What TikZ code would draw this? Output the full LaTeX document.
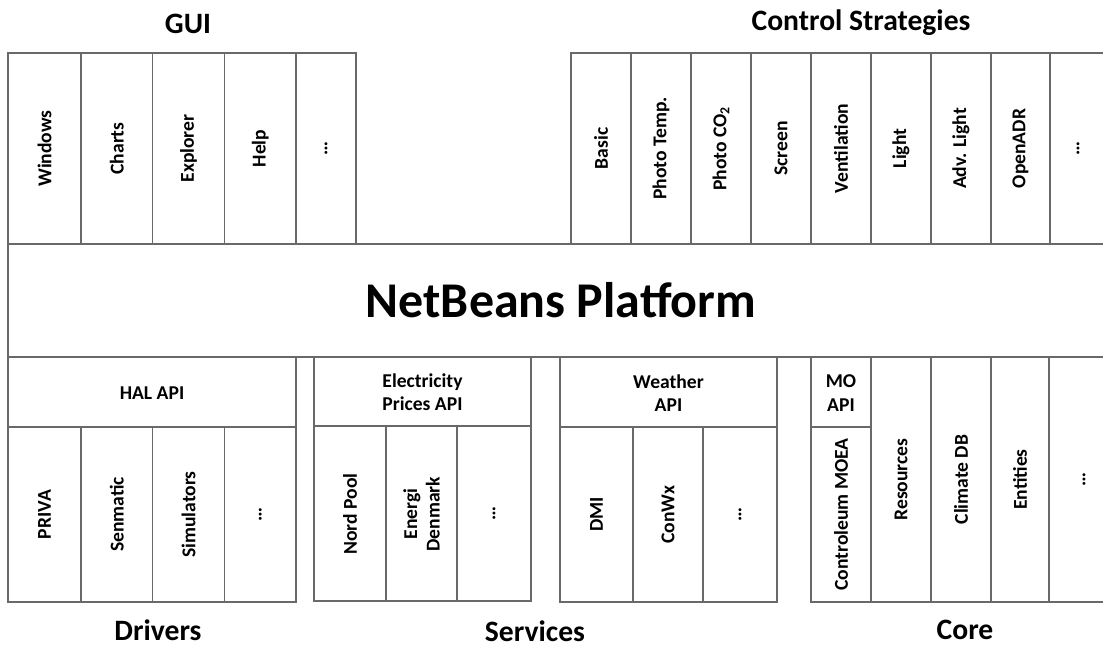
\documentclass[tikz,border=0pt]{standalone}
\usepackage{fontspec}
\setmainfont{Carlito}
\usetikzlibrary{positioning}
\definecolor{linegray}{RGB}{105,105,105}

\tikzset{
  box/.style={draw=linegray, line width=0.65pt},
  vlabel/.style={rotate=90, inner sep=0pt, align=center, font=\bfseries\fontsize{9.8}{11.2}\selectfont},
  hlabel/.style={inner sep=0pt, align=center, font=\bfseries\fontsize{9.8}{11.6}\selectfont},
  group/.style={inner sep=0pt, font=\bfseries\fontsize{14.8}{17}\selectfont},
}

\begin{document}
\begin{tikzpicture}[x=0.5pt,y=-0.5pt]
    \useasboundingbox[clip] (0,0) rectangle (1103,646);

    % GUI
    \node[group] (gui) at (188,24) {GUI};
    \foreach \xa/\xb/\nm/\txt in {8/81/windows/Windows, 81/152.5/charts/Charts, 152.5/224.5/explorer/Explorer, 224.5/296/help/Help, 296/356/guimore/…}{
        \draw[box] (\xa,53) rectangle (\xb,244);
        \node[vlabel] (\nm) at ({(\xa+\xb)/2},148.5) {\txt};
    }

    % Control strategies
    \node[group] (control) at (861,23) {Control Strategies};
    \foreach \xa/\xb/\nm/\txt in {571/631/basic/Basic, 631/691/phtemp/Photo Temp., 691/751/phco/{Photo CO\textsubscript{2}}, 751/811/screen/Screen, 811/871/vent/Ventilation, 871/931/light/Light, 931/991/advlight/Adv. Light, 991/1050/openadr/OpenADR, 1050/1106/ctrlmore/…}{
        \draw[box] (\xa,53) rectangle (\xb,244);
        \node[vlabel] (\nm) at ({(\xa+\xb)/2},148.5) {\txt};
    }

    % Platform
    \draw[box] (8,244) rectangle (1112,357);
    \node[inner sep=0pt, font=\bfseries\fontsize{25}{30}\selectfont] (platform) at (561,300) {NetBeans Platform};

    % Drivers
    \draw[box] (8,357) rectangle (296,427);
    \node[hlabel] (halapi) at (152,393) {HAL API};
    \foreach \xa/\xb/\nm/\txt in {8/81/priva/PRIVA, 81/152.5/senmatic/Senmatic, 152.5/224.5/sim/Simulators, 224.5/296/drvmore/…}{
        \draw[box] (\xa,427) rectangle (\xb,602);
        \node[vlabel] (\nm) at ({(\xa+\xb)/2},514.5) {\txt};
    }
    \node[group] (drivers) at (158,630) {Drivers};

    % Services
    \draw[box] (314,357) rectangle (531,426);
    \node[hlabel] (elapi) at (422.5,392) {Electricity\\Prices API};
    \foreach \xa/\xb/\nm/\txt in {314/386/nordpool/Nord Pool, 386/457/energi/{Energi\\Denmark}, 457/531/elmore/…}{
        \draw[box] (\xa,426) rectangle (\xb,601);
        \node[vlabel] (\nm) at ({(\xa+\xb)/2},514) {\txt};
    }
    \draw[box] (560,357) rectangle (777,427);
    \node[hlabel] (wapi) at (668.5,393) {Weather\\API};
    \foreach \xa/\xb/\nm/\txt in {560/633/dmi/DMI, 633/703/conwx/ConWx, 703/777/wmore/…}{
        \draw[box] (\xa,427) rectangle (\xb,602);
        \node[vlabel] (\nm) at ({(\xa+\xb)/2},514.5) {\txt};
    }
    \node[group] (services) at (535,631) {Services};

    % Core
    \draw[box] (811,357) rectangle (871,427);
    \node[hlabel] (moapi) at (841,393) {MO\\API};
    \draw[box] (811,427) rectangle (871,602);
    \node[vlabel] (moea) at (841,514.5) {Controleum MOEA};
    \foreach \xa/\xb/\nm/\txt in {871/931/resources/Resources, 931/991/climdb/Climate DB, 991/1049/entities/Entities, 1049/1119/coremore/…}{
        \draw[box] (\xa,357) rectangle (\xb,602);
        \node[vlabel] (\nm) at ({(\xa+\xb)/2},479.5) {\txt};
    }
    \node[group] (core) at (965,630) {Core};

\end{tikzpicture}
\end{document}
